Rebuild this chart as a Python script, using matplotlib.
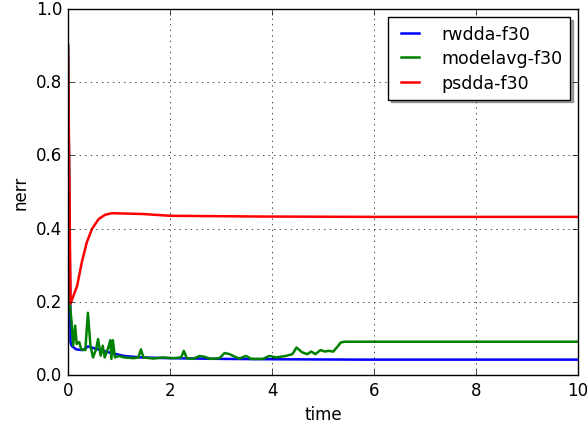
import matplotlib
matplotlib.use("Agg")
import matplotlib.pyplot as plt

plt.style.use("classic")

# rwdda-f30
rw_t = [0.0, 0.05, 0.07, 0.16, 0.29, 0.39, 0.59, 0.79, 1.1, 1.43, 1.96, 3.0, 4.0, 5.75, 10.0]
rw_v = [0.90, 0.09, 0.08, 0.07, 0.068, 0.078, 0.07, 0.062, 0.052, 0.048, 0.046, 0.044, 0.043, 0.042, 0.042]

# modelavg-f30
ma_t = [0.0, 0.04, 0.07, 0.10, 0.14, 0.17, 0.22, 0.26, 0.34, 0.39, 0.44, 0.49, 0.55, 0.59,
        0.64, 0.68, 0.72, 0.79, 0.83, 0.85, 0.88, 0.92, 1.0, 1.1, 1.29, 1.38, 1.43, 1.48,
        1.67, 1.86, 2.06, 2.22, 2.27, 2.33, 2.45, 2.58, 2.67, 2.8, 2.97, 3.07, 3.17, 3.27,
        3.36, 3.49, 3.59, 3.82, 3.95, 4.08, 4.27, 4.4, 4.48, 4.59, 4.69, 4.77, 4.85, 4.95,
        5.04, 5.1, 5.2, 5.27, 5.35, 5.43, 6.0, 8.0, 10.0]
ma_v = [0.90, 0.19, 0.145, 0.08, 0.135, 0.085, 0.09, 0.07, 0.068, 0.17, 0.08, 0.048, 0.07, 0.098,
        0.053, 0.08, 0.048, 0.075, 0.095, 0.044, 0.095, 0.048, 0.052, 0.048, 0.046, 0.048, 0.07, 0.048,
        0.045, 0.048, 0.046, 0.048, 0.066, 0.046, 0.044, 0.052, 0.05, 0.044, 0.046, 0.06, 0.057, 0.05,
        0.045, 0.052, 0.044, 0.044, 0.052, 0.048, 0.052, 0.057, 0.075, 0.062, 0.057, 0.064, 0.057, 0.068,
        0.064, 0.066, 0.064, 0.075, 0.089, 0.091, 0.091, 0.091, 0.091]

# psdda-f30
ps_t = [0.0, 0.05, 0.18, 0.27, 0.37, 0.47, 0.6, 0.73, 0.86, 1.45, 2.0, 3.76, 6.0, 10.0]
ps_v = [0.90, 0.195, 0.244, 0.308, 0.363, 0.399, 0.426, 0.438, 0.442, 0.44, 0.435, 0.433, 0.432, 0.432]

fig = plt.figure(figsize=(5.88, 4.27), dpi=100, facecolor="white")
ax = fig.add_axes([68/588, 1-376/427, 510/588, 366/427])

ax.plot(rw_t, rw_v, color="b", lw=1.8, label="rwdda-f30")
ax.plot(ma_t, ma_v, color="g", lw=1.8, label="modelavg-f30")
ax.plot(ps_t, ps_v, color="r", lw=1.8, label="psdda-f30")

ax.set_xlim(0, 10)
ax.set_ylim(0, 1.0)
ax.set_xticks([0, 2, 4, 6, 8, 10])
ax.set_yticks([0.0, 0.2, 0.4, 0.6, 0.8, 1.0])
ax.tick_params(labelsize=12)
ax.grid(True)
ax.set_xlabel("time", fontsize=12)
ax.set_ylabel("nerr", fontsize=12)
ax.legend(loc="upper right", shadow=True, fontsize=12.5, borderaxespad=0.45,
          handlelength=1.6, handletextpad=1.0, labelspacing=0.38, borderpad=0.45)

fig.savefig("out.png", dpi=100, facecolor="white")
